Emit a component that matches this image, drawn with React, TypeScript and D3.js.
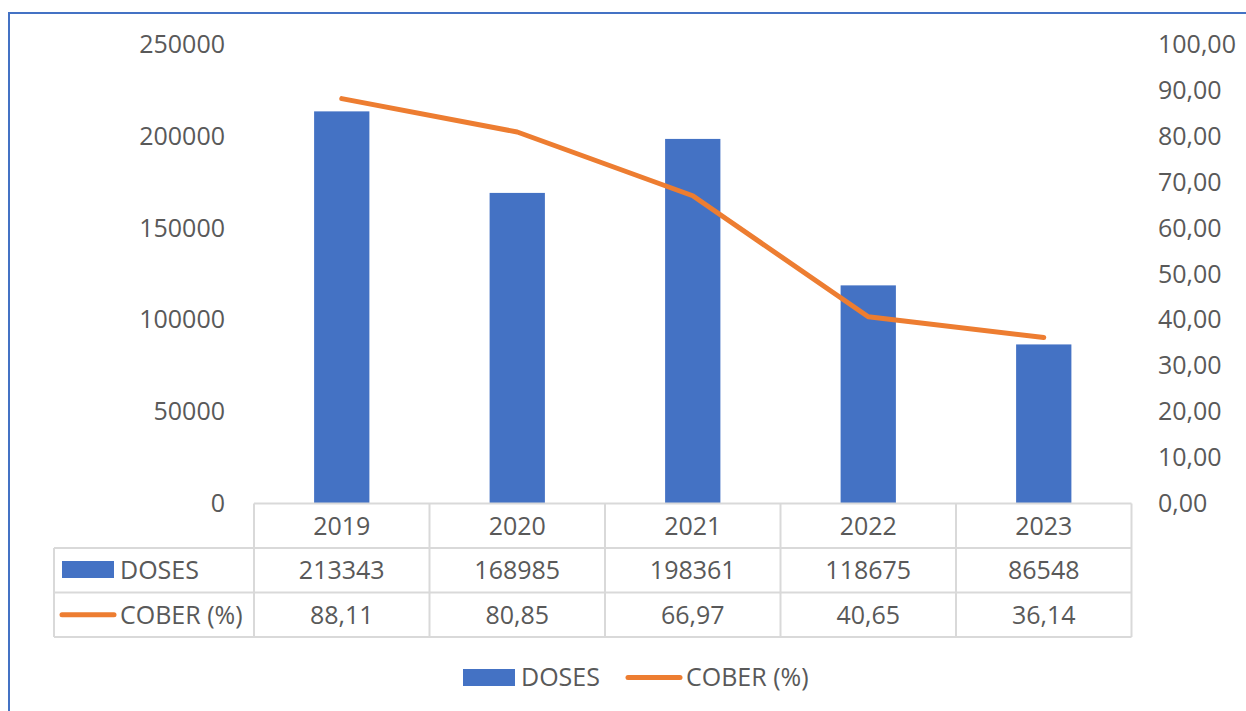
import React from "react";
import * as d3 from "d3";

// dados do gráfico
const years = ["2019", "2020", "2021", "2022", "2023"];
const doses = [213343, 168985, 198361, 118675, 86548];
const cober = [88.11, 80.85, 66.97, 40.65, 36.14];
const leftTicks = [0, 50000, 100000, 150000, 200000, 250000];
const rightTicks = [0, 10, 20, 30, 40, 50, 60, 70, 80, 90, 100];

const W = 1246;
const H = 711;
const BLUE = "#4472C4";
const ORANGE = "#ED7D31";
const TXT = "#595959";
const GRID = "#D9D9D9";
const FONT = "'Open Sans', 'Noto Sans', sans-serif";

const App = () => {
  const left = 254;
  const right = 1131.5;
  const top = 44;
  const bottom = 503.5;
  const rowH = 44.5;
  const legendLeft = 54;

  const x = d3.scaleBand().domain(years).range([left, right]).padding(0);
  const yL = d3.scaleLinear().domain([0, 250000]).range([bottom, top]);
  const yR = d3.scaleLinear().domain([0, 100]).range([bottom, top]);
  const barW = x.bandwidth() * 0.315;
  const cx = (d) => x(d) + x.bandwidth() / 2;

  const line = d3
    .line()
    .x((d, i) => cx(years[i]))
    .y((d) => yR(d));

  const fmtR = (v) => v.toFixed(2).replace(".", ",");

  const row1 = bottom + rowH;
  const row2 = bottom + rowH * 2;
  const row3 = bottom + rowH * 3;

  return (
    <svg
      width={W}
      height={H}
      style={{ position: "absolute", left: 0, top: 0, display: "block", background: "#fff" }}
      fontFamily={FONT}
    >
      {/* moldura */}
      <path d={`M9,${H + 5} L9,13 L${W + 5},13`} fill="none" stroke={BLUE} strokeWidth={2} />

      {/* eixo esquerdo */}
      {leftTicks.map((t) => (
        <text key={"l" + t} x={225} y={yL(t)} dy="0.35em" textAnchor="end" fontSize={25} fill={TXT}>
          {t}
        </text>
      ))}

      {/* eixo direito */}
      {rightTicks.map((t) => (
        <text key={"r" + t} x={1158} y={yR(t)} dy="0.35em" textAnchor="start" fontSize={25} fill={TXT}>
          {fmtR(t)}
        </text>
      ))}

      {/* barras */}
      {doses.map((v, i) => (
        <rect
          key={"b" + i}
          x={cx(years[i]) - barW / 2}
          y={yL(v)}
          width={barW}
          height={bottom - yL(v)}
          fill={BLUE}
        />
      ))}

      {/* linha */}
      <path d={line(cober)} fill="none" stroke={ORANGE} strokeWidth={5} strokeLinejoin="round" strokeLinecap="round" />

      {/* tabela de dados */}
      <g stroke={GRID} strokeWidth={2} fill="none">
        <line x1={left} x2={right} y1={bottom} y2={bottom} />
        <line x1={legendLeft} x2={right} y1={row1} y2={row1} />
        <line x1={legendLeft} x2={right} y1={row2} y2={row2} />
        <line x1={legendLeft} x2={right} y1={row3} y2={row3} />
        <line x1={legendLeft} x2={legendLeft} y1={row1} y2={row3} />
        {years.map((yr) => (
          <line key={"v" + yr} x1={x(yr)} x2={x(yr)} y1={bottom} y2={row3} />
        ))}
        <line x1={right} x2={right} y1={bottom} y2={row3} />
      </g>

      {years.map((yr, i) => (
        <g key={"t" + yr} fontSize={25} fill={TXT} textAnchor="middle">
          <text x={cx(yr)} y={bottom + rowH / 2} dy="0.35em">{yr}</text>
          <text x={cx(yr)} y={row1 + rowH / 2} dy="0.35em">{doses[i]}</text>
          <text x={cx(yr)} y={row2 + rowH / 2} dy="0.35em">{fmtR(cober[i])}</text>
        </g>
      ))}

      {/* legenda dentro da tabela */}
      <rect x={62} y={row1 + 13} width={52} height={17} fill={BLUE} />
      <text x={120} y={row1 + rowH / 2} dy="0.35em" fontSize={25} fill={TXT}>DOSES</text>
      <line x1={62} x2={114} y1={row2 + rowH / 2} y2={row2 + rowH / 2} stroke={ORANGE} strokeWidth={5} strokeLinecap="round" />
      <text x={120} y={row2 + rowH / 2} dy="0.35em" fontSize={25} fill={TXT}>COBER (%)</text>

      {/* legenda inferior */}
      <rect x={463} y={669} width={52} height={17} fill={BLUE} />
      <text x={521} y={677.5} dy="0.35em" fontSize={25} fill={TXT}>DOSES</text>
      <line x1={628} x2={680} y1={677.5} y2={677.5} stroke={ORANGE} strokeWidth={5} strokeLinecap="round" />
      <text x={686} y={677.5} dy="0.35em" fontSize={25} fill={TXT}>COBER (%)</text>
    </svg>
  );
};

export default App;
